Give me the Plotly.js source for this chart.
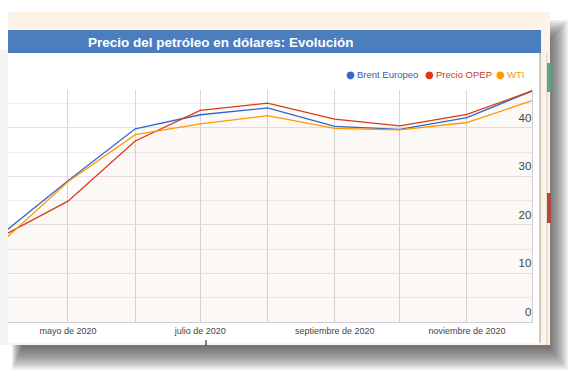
<!DOCTYPE html>
<html>
<head>
<meta charset="utf-8">
<script src="https://cdn.plot.ly/plotly-3.0.1.min.js"></script>
<style>html,body{margin:0;padding:0;background:#fff;}#chart{width:580px;height:382px;}</style>
</head>
<body>
<div id="chart"></div>
<script>
// ---- data ----
const months = ['2020-04-01','2020-05-01','2020-06-01','2020-07-01','2020-08-01','2020-09-01','2020-10-01','2020-11-01','2020-12-01'];
const brent = [18.3, 29.1, 39.8, 42.7, 44.1, 40.3, 39.7, 42.1, 47.6];
const opep  = [17.8, 24.9, 37.3, 43.6, 45.1, 41.8, 40.4, 42.8, 47.6];
const wti   = [16.7, 28.9, 38.6, 40.8, 42.5, 39.9, 39.6, 41.1, 45.6];
const seriesNames = ['Brent Europeo', 'Precio OPEP', 'WTI'];
const monthLabels = ['', 'mayo de 2020', '', 'julio de 2020', '', 'septiembre de 2020', '', 'noviembre de 2020', ''];
const chartTitle = 'Precio del petróleo en dólares: Evolución';

// ---- layout helpers (pixel -> paper) ----
const L = 8, R = 532, T = 90, B = 322, W = 580, H = 382;
const px = x => (x - L) / (R - L);
const py = y => (B - y) / (B - T);
function rect(x0, y0, x1, y1, fill, extra) {
  return Object.assign({type:'rect', xref:'paper', yref:'paper', layer:'below',
    x0:px(x0), x1:px(x1), y0:py(y1), y1:py(y0), fillcolor:fill, line:{width:0}}, extra || {});
}
function vline(x, y0, y1, color, w) {
  return {type:'line', xref:'paper', yref:'paper', layer:'below', x0:px(x), x1:px(x), y0:py(y1), y1:py(y0), line:{color:color, width:w||1}};
}

const shapes = [];
// soft shadow
for (let k = 0; k < 14; k++) {
  shapes.push(rect(12 + k*0.8, 20 + k*1.5, 568 - k*1.4, 370 - k*1.7, 'rgba(60,60,60,0.075)'));
}
shapes.push(rect(0, 50, 8, 345, '#f4f4f4'));
// beige frame
shapes.push(rect(8, 12, 550, 345, '#fdf3e6'));
// white chart body
shapes.push(rect(8, 53, 540, 343, '#ffffff'));
shapes.push(vline(540, 53, 343, '#9a9a9a', 1));
shapes.push(vline(547, 53, 345, '#d8c8b8', 1));
// title bar
shapes.push(rect(8, 30, 541, 53, '#4a7ebf'));
// small marks at the right edge
shapes.push(rect(547, 63, 551, 92, '#5aa58a'));
shapes.push(rect(547, 193, 551, 223, '#b04848'));
// bottom tick
shapes.push({type:'line', xref:'paper', yref:'paper', layer:'below', x0:px(206), x1:px(206), y0:py(346), y1:py(340), line:{color:'#333', width:1.2}});

const colors = ['#3366cc', '#dc3912', '#ff9900'];
const textColors = ['#3b5b9e', '#c0402a', '#e89a2a'];
const legendX = [350, 429, 500];

const annotations = [{
  xref:'paper', yref:'paper', x:px(221), y:py(42), xanchor:'center', yanchor:'middle',
  text:'<b>' + chartTitle + '</b>', showarrow:false,
  font:{family:'Arial, Liberation Sans, sans-serif', size:13.5, color:'#ffffff'}
}];
seriesNames.forEach((n, i) => {
  annotations.push({xref:'paper', yref:'paper', x:px(legendX[i]), y:py(75), xanchor:'center', yanchor:'middle',
    text:'●', showarrow:false, font:{family:'DejaVu Sans, sans-serif', size:10, color:colors[i]}});
  annotations.push({xref:'paper', yref:'paper', x:px(legendX[i] + 5), y:py(75), xanchor:'left', yanchor:'middle',
    text:n, showarrow:false, font:{family:'Arial, Liberation Sans, sans-serif', size:9.5, color:textColors[i]}});
});

const series = [brent, opep, wti];
const fills = ['rgba(51,102,204,0.012)', 'rgba(220,57,18,0.02)', 'rgba(255,153,0,0.012)'];
const traces = series.map((s, i) => ({
  x: months, y: s, name: seriesNames[i], type:'scatter', mode:'lines',
  line:{color:colors[i], width:1.3}, opacity:0.8,
  fill:'tozeroy', fillcolor:fills[i], hoverinfo:'skip'
}));

const layout = {
  width:W, height:H,
  margin:{l:L, r:W-R, t:T, b:H-B, pad:0},
  paper_bgcolor:'#ffffff', plot_bgcolor:'rgba(0,0,0,0)',
  showlegend:false,
  font:{family:'Arial, Liberation Sans, sans-serif', color:'#444'},
  xaxis:{
    type:'date', range:['2020-04-03 08:00', '2020-12-01'],
    tickmode:'array', tickvals:months, ticktext:monthLabels,
    showgrid:true, gridcolor:'#d6d6d6', gridwidth:1, zeroline:false,
    showline:true, linecolor:'#cfcbd3', linewidth:1, ticks:'',
    tickfont:{size:9, color:'#444'}, fixedrange:true
  },
  yaxis:{
    range:[0, 47.8], tick0:0, dtick:10, side:'right',
    ticklabelposition:'inside', ticklabelshift:-10, ticks:'',
    showgrid:true, gridcolor:'#e7e2ea', zeroline:false,
    showline:true, linecolor:'#cfcfcf', linewidth:1,
    minor:{dtick:5, tick0:0, showgrid:true, gridcolor:'#efebef'},
    tickfont:{size:11.5, color:'#444'}, fixedrange:true
  },
  shapes:shapes,
  annotations:annotations
};

Plotly.newPlot('chart', traces, layout, {displayModeBar:false, staticPlot:true});
</script>
</body>
</html>
